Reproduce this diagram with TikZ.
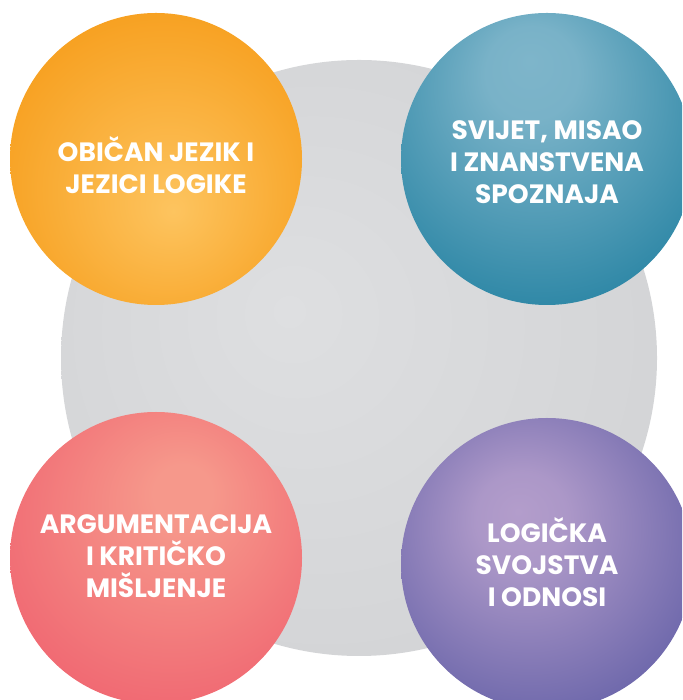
\documentclass[tikz,border=0pt]{standalone}
\usepackage{fontspec}
\setmainfont{Poppins}
\definecolor{grayA}{HTML}{DEDFE1}
\definecolor{grayB}{HTML}{D3D4D6}
\definecolor{orL}{HTML}{FDC45F}
\definecolor{orD}{HTML}{F7A020}
\definecolor{blL}{HTML}{7EB5CA}
\definecolor{blD}{HTML}{15799B}
\definecolor{rdL}{HTML}{F6988B}
\definecolor{rdD}{HTML}{EF5E6D}
\definecolor{puL}{HTML}{B39DCB}
\definecolor{puD}{HTML}{5555A0}
\pgfdeclareradialshading{grayshade}{\pgfpoint{-6bp}{4bp}}{color(0bp)=(grayA); color(30bp)=(grayB); color(50bp)=(grayB)}
\pgfdeclareradialshading{orshade}{\pgfpoint{3bp}{-9bp}}{color(0bp)=(orL); color(30bp)=(orD); color(50bp)=(orD)}
\pgfdeclareradialshading{blshade}{\pgfpoint{-3bp}{17bp}}{color(0bp)=(blL); color(8bp)=(blL!95!blD); color(42bp)=(blD); color(60bp)=(blD)}
\pgfdeclareradialshading{rdshade}{\pgfpoint{5bp}{12bp}}{color(0bp)=(rdL); color(5bp)=(rdL); color(38bp)=(rdD); color(60bp)=(rdD)}
\pgfdeclareradialshading{pushade}{\pgfpoint{-5bp}{9bp}}{color(0bp)=(puL); color(8bp)=(puL!92!puD); color(40bp)=(puD); color(60bp)=(puD)}
\tikzset{
  bubble/.style={circle, minimum size=292pt, inner sep=0pt, draw=none},
  label/.style={text=white, align=center, font=\fontsize{26.5}{32}\selectfont\bfseries}
}
\begin{document}
\begin{tikzpicture}[x=1pt,y=1pt]
\useasboundingbox (0,0) rectangle (682,700);
\begin{scope}
\clip (0,0) rectangle (682,700);
\node[circle, minimum size=596pt, inner sep=0pt, shading=grayshade] (bg) at (359,342) {};
\node[bubble, shading=orshade] (c1) at (156,541) {};
\node[bubble, shading=blshade] (c2) at (547,541) {};
\node[bubble, shading=rdshade] (c3) at (156,142) {};
\node[bubble, shading=pushade] (c4) at (547,136) {};
\end{scope}
\node[label] (t1) at (156,535) {OBIČAN JEZIK I\\JEZICI LOGIKE};
\node[label] (t2) at (547,538) {SVIJET, MISAO\\I ZNANSTVENA\\SPOZNAJA};
\node[label] (t3) at (156,144) {ARGUMENTACIJA\\I KRITIČKO\\MIŠLJENJE};
\node[label] (t4) at (547,138) {LOGIČKA\\SVOJSTVA\\I ODNOSI};
\end{tikzpicture}
\end{document}
